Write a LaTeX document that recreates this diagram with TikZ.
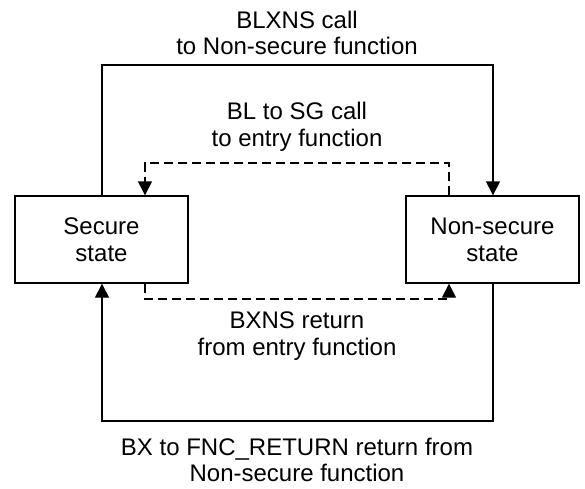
\documentclass[tikz,border=0pt]{standalone}
\usepackage{fontspec}
\setmainfont{Liberation Sans}
\usetikzlibrary{arrows.meta}
\begin{document}
\begin{tikzpicture}[x=1pt,y=-1pt,
  statebox/.style={draw,line width=1.4pt,minimum width=173pt,minimum height=87pt,inner sep=0pt,align=center,font=\fontsize{24}{27}\selectfont},
  lbl/.style={align=center,font=\fontsize{24}{26.5}\selectfont,inner sep=0pt},
  conn/.style={line width=1.4pt,-{Triangle[length=14pt,width=14pt]}},
  dconn/.style={conn,dash pattern=on 9pt off 5pt}]
\useasboundingbox (0,0) rectangle (585,488);
\node[statebox] (sec) at (101.5,239.5) {Secure\\state};
\node[statebox] (ns) at (492.5,239.5) {Non-secure\\state};
\coordinate (t1) at (102,65);
\coordinate (t2) at (493,65);
\coordinate (b1) at (102,421);
\coordinate (b2) at (493,421);
\coordinate (d1) at (145,163);
\coordinate (d2) at (449,163);
\coordinate (e1) at (145,299);
\coordinate (e2) at (449,299);
\draw[conn] (sec.north -| t1) -- (t1) -- (t2) -- (ns.north -| t2);
\draw[conn] (ns.south -| b2) -- (b2) -- (b1) -- (sec.south -| b1);
\draw[dconn] (ns.north -| d2) -- (d2) -- (d1) -- (sec.north -| d1);
\draw[dconn] (sec.south -| e1) -- (e1) -- (e2) -- (ns.south -| e2);
\node[lbl] (l1) at (297,33) {BLXNS call\\to Non-secure function};
\node[lbl] (l2) at (297,127) {BL to SG call\\to entry function};
\node[lbl] (l3) at (297,336) {BXNS return\\from entry function};
\node[lbl] (l4) at (297,460) {BX to FNC\_RETURN return from\\Non-secure function};
\end{tikzpicture}
\end{document}
